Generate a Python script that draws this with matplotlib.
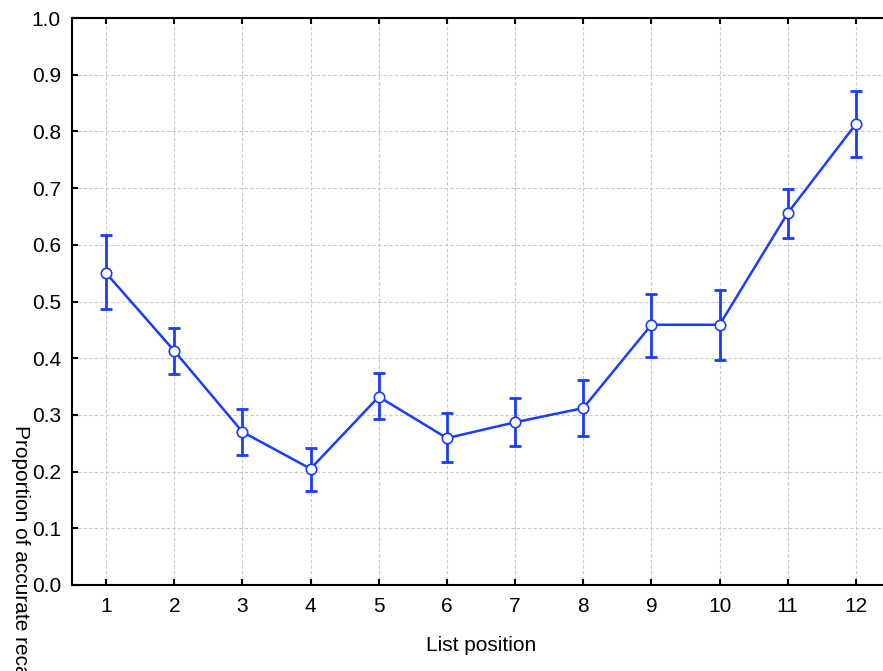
#!/usr/bin/env python3

import matplotlib
import matplotlib.pyplot as plt
import numpy as np

matplotlib.use("Agg")

positions = [1, 2, 3, 4, 5, 6, 7, 8, 9, 10, 11, 12]
mean_recall = [0.550, 0.413, 0.270, 0.205, 0.332, 0.259, 0.287, 0.312, 0.459, 0.459, 0.656, 0.813]
upper_ci = [0.617, 0.453, 0.310, 0.242, 0.374, 0.303, 0.330, 0.362, 0.513, 0.520, 0.698, 0.871]
lower_ci = [0.487, 0.372, 0.229, 0.166, 0.293, 0.217, 0.245, 0.263, 0.402, 0.397, 0.612, 0.755]
y_ticks = [0.0, 0.1, 0.2, 0.3, 0.4, 0.5, 0.6, 0.7, 0.8, 0.9, 1.0]

BLUE = "#1a3cff"

plt.rcParams.update(
    {
        "font.family": ["Liberation Sans", "DejaVu Sans"],
        "font.size": 15,
        "xtick.labelsize": 15,
        "ytick.labelsize": 15,
    }
)


def main():
    fig = plt.figure(figsize=(8.83, 6.71), dpi=100)
    ax = fig.add_axes([72 / 883, 1 - 585 / 671, 818 / 883, 567 / 671])

    mean = np.array(mean_recall)
    yerr = np.array([mean - np.array(lower_ci), np.array(upper_ci) - mean])

    ax.errorbar(
        positions, mean, yerr=yerr,
        fmt="none", ecolor=BLUE, elinewidth=2.0, capsize=4.5, capthick=2.0, zorder=3,
    )
    ax.plot(
        positions, mean, color=BLUE, linewidth=1.8,
        marker="o", markersize=7.5, markerfacecolor="white", markeredgecolor=BLUE,
        markeredgewidth=1.2, zorder=4,
    )

    ax.set_xlim(0.5, 12.5)
    ax.set_ylim(0.0, 1.0)
    ax.set_xticks(positions)
    ax.set_yticks(y_ticks)
    ax.set_yticklabels([f"{t:.1f}" for t in y_ticks])

    ax.grid(True, linestyle=(0, (3, 2)), linewidth=0.8, color="#c8c8c8")
    ax.set_axisbelow(True)
    for spine in ax.spines.values():
        spine.set_linewidth(1.5)
    ax.tick_params(direction="in", length=4, width=1.5, top=True, right=True)
    ax.tick_params(axis="y", pad=8)
    ax.tick_params(axis="x", pad=9)

    ax.set_xlabel("List position", fontsize=15, labelpad=14)
    fig.text(20 / 883, 1 - 425 / 671, "Proportion of accurate recall",
             rotation=270, ha="center", va="top", fontsize=15)

    fig.savefig("out.png", dpi=100, facecolor="white")
    plt.close(fig)


if __name__ == "__main__":
    main()
